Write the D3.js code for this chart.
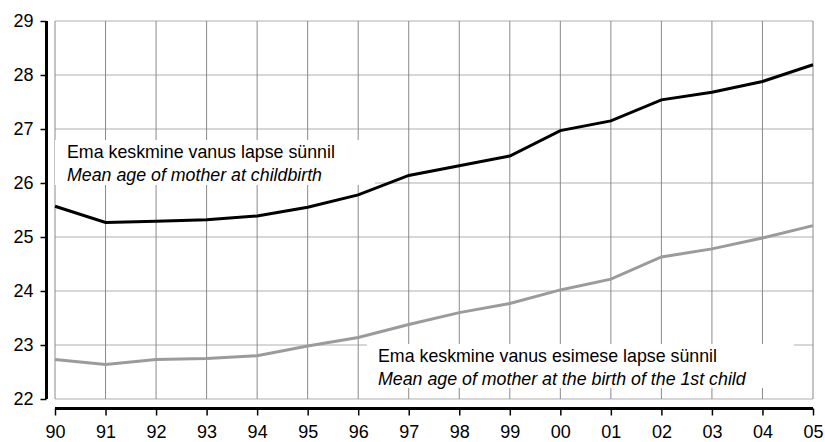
<!DOCTYPE html>
<html>
<head>
<meta charset="utf-8">
<script src="https://cdn.jsdelivr.net/npm/d3@7"></script>
<style>
  body { margin: 0; background: #fff; }
  svg { display: block; font-family: "Liberation Sans", Arial, sans-serif; }
</style>
</head>
<body>
<svg id="chart" width="825" height="442"></svg>
<script>
const years = ["90","91","92","93","94","95","96","97","98","99","00","01","02","03","04","05"];
const meanAgeAll = [25.57,25.27,25.29,25.32,25.39,25.55,25.78,26.14,26.32,26.50,26.97,27.15,27.54,27.68,27.88,28.19];
const meanAgeFirst = [22.73,22.64,22.73,22.75,22.80,22.98,23.14,23.38,23.60,23.77,24.02,24.22,24.63,24.78,24.98,25.21];
const yTicks = [22,23,24,25,26,27,28,29];

const svg = d3.select("#chart");
const plotLeft = 55, plotRight = 813, plotTop = 21, plotBottom = 399;

const x = d3.scalePoint().domain(years).range([plotLeft, plotRight]);
const y = d3.scaleLinear().domain([22, 29]).range([plotBottom, plotTop]);

// grid
svg.append("g").selectAll("line")
    .data(yTicks)
    .enter()
    .append("line")
    .attr("x1", plotLeft).attr("x2", plotRight)
    .attr("y1", d => y(d)).attr("y2", d => y(d))
    .attr("stroke", "#b0b0b0")
    .attr("stroke-width", 1.2);

svg.append("g").selectAll("line")
    .data(years)
    .enter()
    .append("line")
    .attr("x1", d => x(d)).attr("x2", d => x(d))
    .attr("y1", plotTop).attr("y2", plotBottom)
    .attr("stroke", "#8a8a8a")
    .attr("stroke-width", 1);

// label boxes (white, covering grid)
const boxes = [
    { x: plotLeft, y: 140, w: 375 - plotLeft, h: 45, lines: ["Ema keskmine vanus lapse sünnil", "Mean age of mother at childbirth"], tx: 67, ty: 158 },
    { x: 367, y: 344, w: 794 - 367, h: 44, lines: ["Ema keskmine vanus esimese lapse sünnil", "Mean age of mother at the birth of the 1st child"], tx: 378, ty: 362 }
];
boxes.forEach(b => {
    svg.append("rect")
        .attr("x", b.x).attr("y", b.y)
        .attr("width", b.w).attr("height", b.h)
        .attr("fill", "#fff");
});

// lines
const line = d3.line()
    .x((d, i) => x(years[i]))
    .y(d => y(d));

svg.append("path")
    .datum(meanAgeFirst)
    .attr("d", line)
    .attr("fill", "none")
    .attr("stroke", "#9b9b9b")
    .attr("stroke-width", 3);

svg.append("path")
    .datum(meanAgeAll)
    .attr("d", line)
    .attr("fill", "none")
    .attr("stroke", "#000")
    .attr("stroke-width", 3);

// labels
boxes.forEach(b => {
    svg.append("text")
        .attr("x", b.tx).attr("y", b.ty)
        .style("font-size", "17.8px")
        .text(b.lines[0]);
    svg.append("text")
        .attr("x", b.tx).attr("y", b.ty + 22.5)
        .style("font-size", "17.8px")
        .style("font-style", "italic")
        .text(b.lines[1]);
});

// y axis
const yAxis = svg.append("g")
    .attr("transform", "translate(46.5,0)")
    .call(d3.axisLeft(y).tickValues(yTicks).tickSize(6).tickPadding(7).tickFormat(d3.format("d")));
yAxis.select(".domain").attr("stroke-width", 3).attr("d", `M0,${plotTop}V${plotBottom}`);
yAxis.selectAll(".tick line").attr("stroke-width", 1.5);
yAxis.selectAll("text").style("font-size", "18px").style("font-family", "Liberation Sans, Arial, sans-serif").attr("fill", "#000");

// x axis
const xAxis = svg.append("g")
    .attr("transform", "translate(0,408.5)")
    .call(d3.axisBottom(x).tickSize(7).tickPadding(10));
xAxis.select(".domain").attr("stroke-width", 3).attr("d", `M${plotLeft},0H${plotRight}`);
xAxis.selectAll(".tick line").attr("stroke-width", 1.5);
xAxis.selectAll("text").style("font-size", "18px").style("font-family", "Liberation Sans, Arial, sans-serif").attr("fill", "#000");
</script>
</body>
</html>
